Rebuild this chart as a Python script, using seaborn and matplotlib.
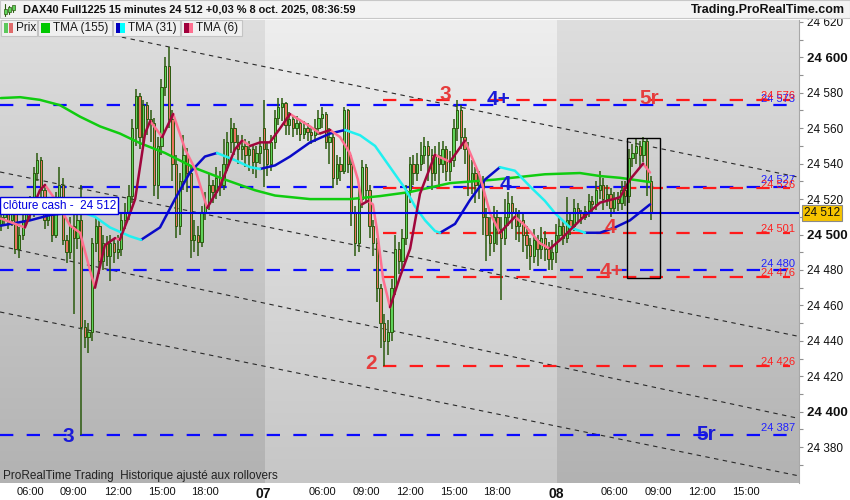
import numpy as np
import pandas as pd
import seaborn as sns
import matplotlib.pyplot as plt
from matplotlib.patches import Rectangle

# DAX40 15 min candles, bar 0 = 06 oct 04:00, bar 72 = 07 oct 02:00, bar 152 = 08 oct 02:00
opens = [24506, 24510, 24512, 24508, 24514, 24492, 24500, 24508, 24515, 24512,
         24535, 24542, 24525, 24508, 24512, 24500, 24520, 24528, 24497, 24490,
         24505, 24498, 24508, 24448, 24442, 24445, 24495, 24505, 24485, 24495,
         24488, 24495, 24490, 24492, 24508, 24512, 24522, 24560, 24578, 24555,
         24573, 24565, 24563, 24528, 24550, 24583, 24595, 24565, 24540, 24505,
         24530, 24545, 24535, 24497, 24500, 24496, 24512, 24518, 24528, 24524,
         24532, 24528, 24540, 24552, 24560, 24552, 24548, 24550, 24545, 24548,
         24541, 24546, 24560, 24548, 24540, 24552, 24566, 24572, 24574, 24562,
         24565, 24560, 24563, 24557, 24560, 24558, 24556, 24560, 24566, 24568,
         24552, 24555, 24532, 24540, 24536, 24570, 24540, 24512, 24495, 24520,
         24538, 24525, 24505, 24495, 24470, 24450, 24440, 24445, 24470, 24492,
         24485, 24498, 24525, 24540, 24535, 24540, 24545, 24550, 24545, 24535,
         24545, 24540, 24548, 24536, 24542, 24560, 24570, 24555, 24548, 24530,
         24535, 24528, 24530, 24510, 24500, 24495, 24510, 24503, 24498, 24510,
         24518, 24512, 24505, 24508, 24500, 24494, 24488, 24497, 24492, 24498,
         24492, 24486, 24490, 24500, 24505, 24498, 24508, 24505, 24515, 24512,
         24510, 24513, 24519, 24517, 24525, 24528, 24520, 24523, 24515, 24520,
         24518, 24525, 24522, 24543, 24546, 24550, 24545, 24553, 24530]
closes = [24510, 24512, 24508, 24514, 24492, 24500, 24508, 24515, 24512, 24535,
          24542, 24525, 24508, 24512, 24500, 24520, 24528, 24497, 24490, 24505,
          24498, 24508, 24448, 24442, 24445, 24495, 24505, 24485, 24495, 24488,
          24495, 24490, 24492, 24508, 24512, 24522, 24560, 24578, 24555, 24573,
          24565, 24563, 24528, 24550, 24583, 24595, 24565, 24540, 24505, 24530,
          24545, 24535, 24497, 24500, 24496, 24512, 24518, 24528, 24524, 24532,
          24528, 24540, 24552, 24560, 24552, 24548, 24550, 24545, 24548, 24541,
          24546, 24550, 24548, 24540, 24552, 24566, 24572, 24574, 24562, 24565,
          24560, 24563, 24557, 24560, 24558, 24556, 24560, 24566, 24568, 24552,
          24555, 24532, 24540, 24536, 24570, 24540, 24512, 24495, 24520, 24538,
          24525, 24505, 24495, 24470, 24450, 24440, 24445, 24470, 24492, 24485,
          24498, 24525, 24540, 24535, 24540, 24545, 24550, 24545, 24535, 24545,
          24540, 24548, 24536, 24542, 24560, 24570, 24555, 24548, 24530, 24535,
          24528, 24530, 24510, 24500, 24495, 24510, 24503, 24498, 24510, 24518,
          24512, 24505, 24508, 24500, 24494, 24488, 24497, 24492, 24498, 24492,
          24486, 24490, 24500, 24505, 24498, 24508, 24505, 24515, 24512, 24510,
          24513, 24519, 24517, 24525, 24528, 24520, 24523, 24515, 24520, 24518,
          24525, 24522, 24543, 24546, 24550, 24545, 24553, 24530, 24512]
highs = [24516, 24518, 24515, 24519, 24516, 24504, 24512, 24520, 24522, 24538,
         24546, 24544, 24528, 24518, 24514, 24524, 24538, 24532, 24500, 24510,
         24518, 24514, 24528, 24452, 24450, 24498, 24510, 24508, 24500, 24499,
         24500, 24498, 24500, 24512, 24518, 24528, 24565, 24582, 24580, 24576,
         24575, 24570, 24566, 24555, 24588, 24600, 24606, 24570, 24545, 24535,
         24556, 24549, 24538, 24508, 24505, 24516, 24524, 24534, 24531, 24538,
         24536, 24554, 24558, 24566, 24563, 24556, 24556, 24554, 24553, 24551,
         24550, 24555, 24576, 24552, 24556, 24570, 24577, 24577, 24575, 24569,
         24567, 24567, 24565, 24564, 24563, 24561, 24565, 24570, 24572, 24569,
         24560, 24557, 24545, 24544, 24572, 24571, 24545, 24516, 24528, 24542,
         24540, 24528, 24508, 24498, 24472, 24455, 24452, 24475, 24500, 24496,
         24503, 24528, 24544, 24545, 24546, 24552, 24555, 24553, 24548, 24550,
         24552, 24553, 24550, 24547, 24565, 24576, 24573, 24560, 24552, 24542,
         24538, 24536, 24533, 24515, 24510, 24516, 24514, 24510, 24520, 24524,
         24522, 24515, 24514, 24512, 24505, 24498, 24503, 24500, 24504, 24502,
         24496, 24497, 24506, 24510, 24508, 24521, 24512, 24520, 24518, 24514,
         24516, 24523, 24522, 24530, 24536, 24532, 24528, 24526, 24524, 24524,
         24530, 24530, 24548, 24551, 24554, 24553, 24555, 24554, 24533]
lows = [24502, 24505, 24503, 24505, 24489, 24487, 24497, 24505, 24508, 24510,
        24530, 24520, 24503, 24505, 24496, 24498, 24516, 24494, 24484, 24486,
        24455, 24492, 24387, 24436, 24433, 24440, 24490, 24478, 24480, 24482,
        24474, 24484, 24486, 24488, 24503, 24508, 24518, 24550, 24548, 24550,
        24556, 24552, 24522, 24520, 24545, 24578, 24560, 24530, 24498, 24500,
        24525, 24524, 24487, 24490, 24488, 24493, 24508, 24514, 24518, 24520,
        24522, 24525, 24536, 24546, 24545, 24540, 24542, 24538, 24536, 24534,
        24532, 24540, 24527, 24533, 24536, 24548, 24562, 24564, 24556, 24556,
        24555, 24556, 24553, 24554, 24553, 24551, 24552, 24556, 24560, 24548,
        24540, 24526, 24528, 24530, 24534, 24535, 24505, 24488, 24490, 24515,
        24518, 24498, 24488, 24462, 24436, 24426, 24432, 24440, 24466, 24478,
        24480, 24494, 24518, 24528, 24530, 24536, 24540, 24530, 24525, 24530,
        24528, 24535, 24530, 24530, 24538, 24553, 24548, 24540, 24522, 24523,
        24518, 24520, 24500, 24485, 24488, 24490, 24494, 24463, 24494, 24505,
        24503, 24497, 24496, 24490, 24486, 24480, 24484, 24482, 24486, 24485,
        24480, 24480, 24484, 24496, 24494, 24495, 24500, 24502, 24507, 24506,
        24508, 24510, 24512, 24514, 24520, 24514, 24516, 24510, 24512, 24513,
        24514, 24516, 24518, 24538, 24540, 24538, 24541, 24522, 24508]

# moving averages (bar index, price)
tma155_bar = [0, 5.3, 10.7, 16.2, 21.7, 27.2, 32.6, 38.1, 45, 53.2, 61.4, 69.6,
              75.1, 84.7, 95.6, 103.9, 112.1, 123, 135.4, 149, 158.6, 164.1, 169.6, 177.8]
tma155_val = [24577, 24577.5, 24576, 24573, 24566.5, 24561, 24557, 24551.6, 24546,
              24537.5, 24531, 24525, 24522, 24520, 24520, 24521.7, 24524, 24529,
              24531, 24534, 24534.7, 24533, 24532, 24529.6]

tma31_bar = [0, 8, 13.5, 21.7, 25.8, 29.9, 35.4, 38.4, 43.6, 47.7, 51.8, 55.9, 59.2,
             64.1, 68.3, 71, 75.1, 79.2, 84.7, 90.2, 94.3, 98.4, 102.5, 106.6, 110.7,
             113.4, 116.2, 118.9, 120.3, 124.4, 128.5, 132.6, 136.7, 140.8, 145, 149,
             151.8, 155.9, 160, 164.1, 168.2, 172.3, 177.8]
tma31_val = [24505, 24508, 24511, 24513, 24510, 24504, 24499, 24497, 24504, 24520,
             24535, 24544, 24546, 24542, 24538, 24537, 24539, 24544, 24552, 24557,
             24559, 24556, 24550, 24538, 24526, 24516, 24508, 24502, 24501, 24506,
             24519.5, 24531, 24538, 24536, 24527, 24519, 24512, 24504, 24501, 24501,
             24504, 24508, 24517]

tma6_bar = [0, 6.6, 10.7, 12.1, 14.8, 19, 21.7, 24.4, 25.8, 28.5, 31.3, 32.6, 35.4,
            36.8, 39.5, 40.9, 44.2, 47.2, 50.5, 53.2, 56.5, 60, 64.1, 66.1, 68.3, 71,
            73.7, 76.5, 79.2, 84.7, 87.4, 90.2, 92.9, 95.6, 97.8, 98.9, 100.6, 101.9,
            103, 104.7, 106.6, 109.3, 112.1, 114.8, 118.9, 123, 127.1, 131.2, 134,
            136.7, 140.8, 143.6, 147.7, 150.4, 153.2, 158.6, 164.1, 169.6, 172.3,
            175.1, 175.9, 177.8]
tma6_val = [24509, 24504, 24525, 24528, 24520, 24505, 24501, 24480, 24470, 24494,
            24498, 24497, 24512, 24520, 24557, 24564, 24555, 24568, 24548, 24537,
            24515, 24527, 24548, 24553, 24550, 24552, 24552, 24560, 24568, 24561,
            24557, 24559, 24555, 24546, 24531, 24517, 24519, 24517, 24503, 24475,
            24459, 24476, 24492, 24523, 24545, 24541, 24553, 24533, 24512, 24501,
            24510, 24505, 24495, 24492, 24497, 24508, 24518, 24521, 24531, 24538,
            24540, 24535]

# wave levels
blue_levels = [24573, 24527, 24480, 24387]
red_levels = [24576, 24526, 24501, 24476, 24426]
red_start = 104.7
last_price = 24512

# channel lines: (price at left edge, price at right edge)
channel_left = [24625.6, 24535.3, 24493.5, 24456.3]
channel_right = [24532.3, 24442.5, 24396.2, 24363.8]

wave_text = ['3', '2', '3', '4+', '4', '5r', '4', '4+', '5r']
wave_bar = [18.4, 101.4, 121.7, 136.2, 138.1, 177.5, 166.9, 167.4, 193.2]
wave_price = [24386, 24427.5, 24579, 24576, 24528, 24576.5, 24504, 24479, 24387]
wave_is_blue = [True, False, False, True, True, False, False, False, True]

box_bars = [171.5, 180.5]
box_prices = [24475.3, 24554.5]

tick_bars = [8, 20, 32, 44, 56, 72, 88, 100, 112, 124, 136, 152, 168, 180, 192, 204]
tick_labels = ['06:00', '09:00', '12:00', '15:00', '18:00', '07', '06:00', '09:00',
               '12:00', '15:00', '18:00', '08', '06:00', '09:00', '12:00', '15:00']
minor_bars = [68, 76, 148, 156, 216]
day_edges = [72.3, 152.3]

RED = '#e63c3c'
WICK = '#2b5a0e'

sns.set_theme(style='white')
plt.rcParams['font.family'] = ['Liberation Sans', 'DejaVu Sans']

fig = plt.figure(figsize=(8.5, 5), dpi=100)
fig.patch.set_facecolor('white')
ax = fig.add_axes([0, 1 - 483 / 500, 799 / 850, 463 / 500])

xmin, xmax = -0.22, 218.6
ymin, ymax = 24359.8, 24621.05


def gradient(top, bottom):
    t = np.linspace(0, 1, 256)[:, None]
    arr = (np.array(top)[None, :] * (1 - t) + np.array(bottom)[None, :] * t) / 255
    return arr[:, None, :]


dark = gradient((222, 222, 222), (178, 178, 178))
light = gradient((238, 238, 238), (198, 198, 198))
ax.imshow(dark, extent=[xmin, day_edges[0], ymin, ymax], aspect='auto', zorder=0)
ax.imshow(light, extent=[day_edges[0], day_edges[1], ymin, ymax], aspect='auto', zorder=0)
ax.imshow(dark, extent=[day_edges[1], xmax, ymin, ymax], aspect='auto', zorder=0)

# channel lines
for pl, pr in zip(channel_left, channel_right):
    ax.plot([xmin, xmax], [pl, pr], color='#2a2a2a', lw=0.8, ls=(0, (4, 4)), zorder=1)

# wave levels
for v in blue_levels:
    ax.plot([xmin, 217], [v, v], color='#0a0aff', lw=1.6, ls=(0, (6, 6)), zorder=2)
    ax.annotate(f'{v:,}'.replace(',', ' '), (217.5, v), xytext=(0, 1),
                textcoords='offset points', ha='right', va='bottom',
                color='#2020ff', fontsize=8, zorder=7)
for v in red_levels:
    ax.plot([red_start, 216], [v, v], color='#ff1a1a', lw=1.6, ls=(0, (6, 6)), zorder=2)
    ax.annotate(f'{v:,}'.replace(',', ' '), (217.5, v), xytext=(0, -1),
                textcoords='offset points', ha='right', va='bottom',
                color='#ff2020', fontsize=8, zorder=7)

# candles
bars = np.arange(len(closes))
o = np.array(opens)
c = np.array(closes)
up = c >= o
ax.vlines(bars, lows, highs, color=WICK, lw=1.1, zorder=3)
body = np.maximum(np.abs(c - o), 0.6)
ax.bar(bars[up], body[up], bottom=np.minimum(o, c)[up], width=0.62,
       color='#5fd35a', edgecolor=WICK, linewidth=0.7, zorder=3)
ax.bar(bars[~up], body[~up], bottom=np.minimum(o, c)[~up], width=0.62,
       color='#e9735f', edgecolor=WICK, linewidth=0.7, zorder=3)


def runs(xs, ys):
    rows = []
    run = 0
    prev = None
    for k in range(len(xs) - 1):
        d = 'up' if ys[k + 1] >= ys[k] else 'down'
        if prev is not None and d != prev:
            run += 1
        rows.append((xs[k], ys[k], run, d))
        rows.append((xs[k + 1], ys[k + 1], run, d))
        prev = d
    return pd.DataFrame(rows, columns=['bar', 'price', 'run', 'dir'])


sns.lineplot(x=tma155_bar, y=tma155_val, color='#10cc10', lw=1.8, ax=ax, zorder=4)
sns.lineplot(data=runs(tma31_bar, tma31_val), x='bar', y='price', units='run',
             estimator=None, hue='dir', palette={'up': '#0a0ac8', 'down': '#20f0f0'},
             sort=False, lw=1.8, legend=False, ax=ax, zorder=4)
sns.lineplot(data=runs(tma6_bar, tma6_val), x='bar', y='price', units='run',
             estimator=None, hue='dir', palette={'up': '#a0063c', 'down': '#ff7090'},
             sort=False, lw=1.8, legend=False, ax=ax, zorder=4)

# last close line
ax.plot([xmin, xmax], [last_price, last_price], color='#0000e0', lw=1.5, zorder=5)
ax.text(0.5, last_price + 4.2, 'clôture cash -  24 512', color='#0000e0', fontsize=8.5,
        va='center', ha='left', zorder=8,
        bbox=dict(boxstyle='square,pad=0.2', fc='white', ec='#0000e0', lw=1))

ax.add_patch(Rectangle((box_bars[0], box_prices[0]), box_bars[1] - box_bars[0],
                       box_prices[1] - box_prices[0], fill=False, ec='black', lw=1, zorder=6))

for t, b, p, isb in zip(wave_text, wave_bar, wave_price, wave_is_blue):
    ax.text(b, p, t, color='#1a1ad8' if isb else RED, fontsize=15, fontweight='bold',
            ha='center', va='center', zorder=7)

ax.set_xlim(xmin, xmax)
ax.set_ylim(ymin, ymax)
ax.set_xlabel('')
ax.set_ylabel('')

# axes
ax.yaxis.tick_right()
yt = list(range(24380, 24621, 20))
ax.set_yticks(yt)
ax.set_yticklabels([f'{v:,}'.replace(',', ' ') for v in yt])
ax.set_yticks(list(range(24370, 24621, 10)), minor=True)
for lab, v in zip(ax.get_yticklabels(), yt):
    if v % 100 == 0:
        lab.set_fontweight('bold')
        lab.set_fontsize(9.5)
    else:
        lab.set_fontsize(8.5)
ax.set_xticks(tick_bars)
ax.set_xticklabels(tick_labels)
ax.set_xticks(minor_bars, minor=True)
for lab, t in zip(ax.get_xticklabels(), tick_labels):
    if ':' not in t:
        lab.set_fontweight('bold')
        lab.set_fontsize(10)
    else:
        lab.set_fontsize(8)
ax.tick_params(axis='both', which='both', direction='out', length=3, width=0.8,
               color='#909090', labelcolor='#111111', pad=2)
ax.tick_params(axis='x', which='both', length=2.5, pad=0.5)
ax.tick_params(axis='y', which='both', left=False, right=True, pad=3)
for s in ['top', 'left', 'bottom']:
    ax.spines[s].set_visible(False)
ax.spines['right'].set_color('#a8a8a8')
ax.spines['right'].set_linewidth(0.8)
ax.grid(False)

ax.text(1.006, last_price, '24 512', transform=ax.get_yaxis_transform(), fontsize=8.5,
        ha='left', va='center', color='#111111', zorder=9,
        bbox=dict(boxstyle='square,pad=0.15', fc='#f6c400', ec='#8a8a8a', lw=0.8))

# header
fig.patches.append(Rectangle((0, 1 - 18 / 500), 1, 18 / 500, transform=fig.transFigure,
                             fc='#f3f3f3', ec='#c8c8c8', lw=0.8, zorder=1))
for k in range(3):
    xc = 5 + k * 4
    fig.add_artist(plt.Line2D([xc / 850, xc / 850], [1 - (16 - k * 2) / 500, 1 - (k * 2 + 4) / 500],
                              color=WICK, lw=0.8, transform=fig.transFigure))
    fig.patches.append(Rectangle(((xc - 1.5) / 850, 1 - (14 - k * 2) / 500), 3 / 850, 5 / 500,
                                 transform=fig.transFigure, fc='#5fd35a', ec=WICK, lw=0.5, zorder=2))
fig.text(23 / 850, 1 - 10 / 500, 'DAX40 Full1225 15 minutes 24 512 +0,03 % 8 oct. 2025, 08:36:59',
         fontsize=7.9, fontweight='bold', color='#111111', va='center', ha='left')
fig.text(845 / 850, 1 - 10 / 500, 'Trading.ProRealTime.com', fontsize=9, fontweight='bold',
         color='#111111', va='center', ha='right')

# legend row
legend_items = [('Prix', 1, 37, ('#5cc85c', '#e06a6a')),
                ('TMA (155)', 38, 112, ('#00c800', '#00c800')),
                ('TMA (31)', 113, 180, ('#0000c0', '#00ffff')),
                ('TMA (6)', 181, 242, ('#a0003c', '#ff6f90'))]
for name, x0, x1, cols in legend_items:
    fig.patches.append(Rectangle((x0 / 850, 1 - 36 / 500), (x1 - x0) / 850, 16 / 500,
                                 transform=fig.transFigure, fc='#f0f0f0', ec='#c4c4c4',
                                 lw=0.8, zorder=2))
    fig.patches.append(Rectangle(((x0 + 3) / 850, 1 - 33 / 500), 4.5 / 850, 10 / 500,
                                 transform=fig.transFigure, fc=cols[0], ec='none', zorder=3))
    fig.patches.append(Rectangle(((x0 + 7.5) / 850, 1 - 33 / 500), 4.5 / 850, 10 / 500,
                                 transform=fig.transFigure, fc=cols[1], ec='none', zorder=3))
    fig.text((x0 + 15) / 850, 1 - 28 / 500, name, fontsize=8.5, color='#1a1a1a',
             va='center', ha='left', zorder=4)

fig.text(3 / 850, 1 - 476 / 500, 'ProRealTime Trading  Historique ajusté aux rollovers',
         fontsize=8.5, color='#222222', va='center', ha='left')

fig.savefig('out.png', dpi=100)
